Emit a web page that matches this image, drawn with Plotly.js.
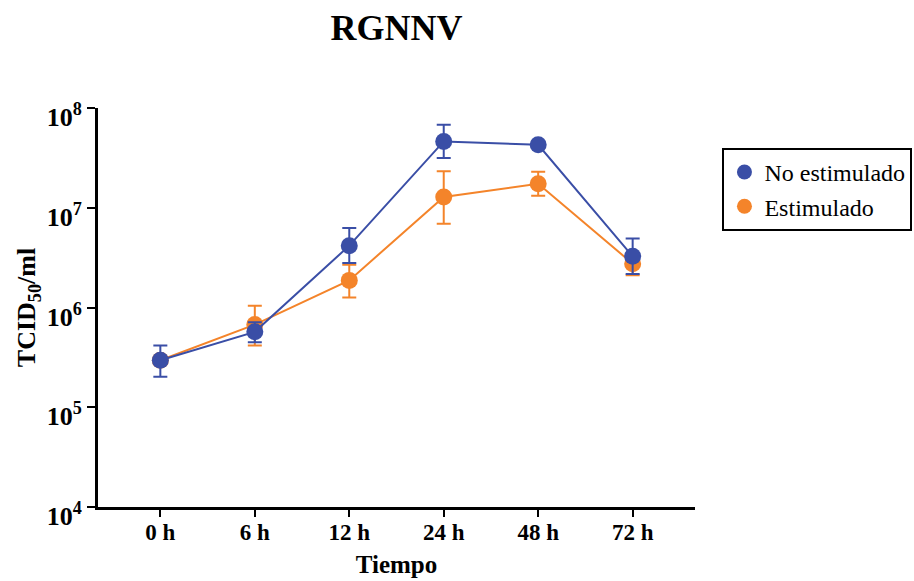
<!DOCTYPE html>
<html>
<head>
<meta charset="utf-8">
<script src="https://cdn.plot.ly/plotly-3.0.1.min.js"></script>
<style>html,body{margin:0;padding:0;background:#fff;}#chart{width:914px;height:581px;}
.legendtext{font-family:"Liberation Serif", "Times New Roman", serif !important;}</style>
</head>
<body>
<div id="chart"></div>
<script>
const categories = ["0 h", "6 h", "12 h", "24 h", "48 h", "72 h"];
const noEstimulado = [2.96e5, 5.7e5, 4.17e6, 4.62e7, 4.28e7, 3.26e6];
const noEstimuladoUpper = [4.15e5, 7.1e5, 6.28e6, 6.81e7, 4.6e7, 4.93e6];
const noEstimuladoLower = [2.02e5, 4.48e5, 2.8e6, 3.16e7, 4.0e7, 2.17e6];
const estimulado = [2.96e5, 6.74e5, 1.87e6, 1.28e7, 1.74e7, 2.75e6];
const estimuladoUpper = [3.2e5, 1.04e6, 2.69e6, 2.32e7, 2.3e7, 3.5e6];
const estimuladoLower = [2.7e5, 4.15e5, 1.26e6, 6.92e6, 1.32e7, 2.1e6];
const yTickVals = [1e4, 1e5, 1e6, 1e7, 1e8];
const yTickText = ["10<sup>4</sup>", "10<sup>5</sup>", "10<sup>6</sup>", "10<sup>7</sup>", "10<sup>8</sup>"];

const xIdx = categories.map((c, i) => i);
const diff = (a, b) => a.map((v, i) => Math.max(0, v - b[i]));

const blue = "#3a4ea6";
const orange = "#f4842a";

const traces = [
  {
    name: "Estimulado", x: xIdx, y: estimulado, type: "scatter", mode: "lines+markers", showlegend: false,
    line: {color: orange, width: 2}, marker: {color: orange, size: 17},
    error_y: {type: "data", symmetric: false, array: diff(estimuladoUpper, estimulado),
      arrayminus: diff(estimulado, estimuladoLower), color: orange, thickness: 2, width: 7}
  },
  {
    name: "No estimulado", x: xIdx, y: noEstimulado, type: "scatter", mode: "lines+markers", showlegend: false,
    line: {color: blue, width: 2}, marker: {color: blue, size: 17},
    error_y: {type: "data", symmetric: false, array: diff(noEstimuladoUpper, noEstimulado),
      arrayminus: diff(noEstimulado, noEstimuladoLower), color: blue, thickness: 2, width: 7}
  },
  {name: "No estimulado", x: [null], y: [null], type: "scatter", mode: "markers",
    marker: {color: blue, size: 15}, showlegend: true},
  {name: "Estimulado", x: [null], y: [null], type: "scatter", mode: "markers",
    marker: {color: orange, size: 15}, showlegend: true}
];

const font = "Liberation Serif, serif";
const layout = {
  width: 914, height: 581,
  font: {family: font, color: "#000"},
  margin: {l: 98, r: 219, t: 108, b: 74, autoexpand: false},
  paper_bgcolor: "#fff", plot_bgcolor: "#fff",
  showlegend: true,
  title: {text: "RGNNV", x: 0.5, xref: "paper", y: 0.975, yref: "container", yanchor: "top",
    font: {family: font, size: 36, color: "#000", weight: "bold"}},
  xaxis: {
    range: [-0.66, 5.66], tickvals: xIdx, ticktext: categories,
    showline: true, linecolor: "#000", linewidth: 3, showgrid: false, zeroline: false,
    ticks: "outside", ticklen: 7, tickwidth: 2, tickcolor: "#000",
    ticklabelstandoff: -5,
    tickfont: {family: font, size: 23, color: "#000", weight: "bold"},
    title: {text: "Tiempo", standoff: 12, font: {family: font, size: 25, color: "#000", weight: "bold"}}
  },
  yaxis: {
    type: "log", range: [4, 8], tickvals: yTickVals, ticktext: yTickText,
    showline: true, linecolor: "#000", linewidth: 3, showgrid: false, zeroline: false,
    ticks: "outside", ticklen: 8, tickwidth: 2, tickcolor: "#000",
    ticklabelshift: 9,
    tickfont: {family: font, size: 26, color: "#000", weight: "bold"},
    title: {text: "TCID<sub>50</sub>/ml", standoff: 4, font: {family: font, size: 26, color: "#000", weight: "bold"}}
  },
  legend: {
    x: 1.046, xanchor: "left", y: 0.9, yanchor: "top",
    bordercolor: "#000", borderwidth: 2, bgcolor: "#fff",
    font: {family: font, size: 24, color: "#000", weight: "normal"}, itemwidth: 30, tracegroupgap: 0
  }
};

Plotly.newPlot("chart", traces, layout, {displayModeBar: false, staticPlot: true});
</script>
</body>
</html>
